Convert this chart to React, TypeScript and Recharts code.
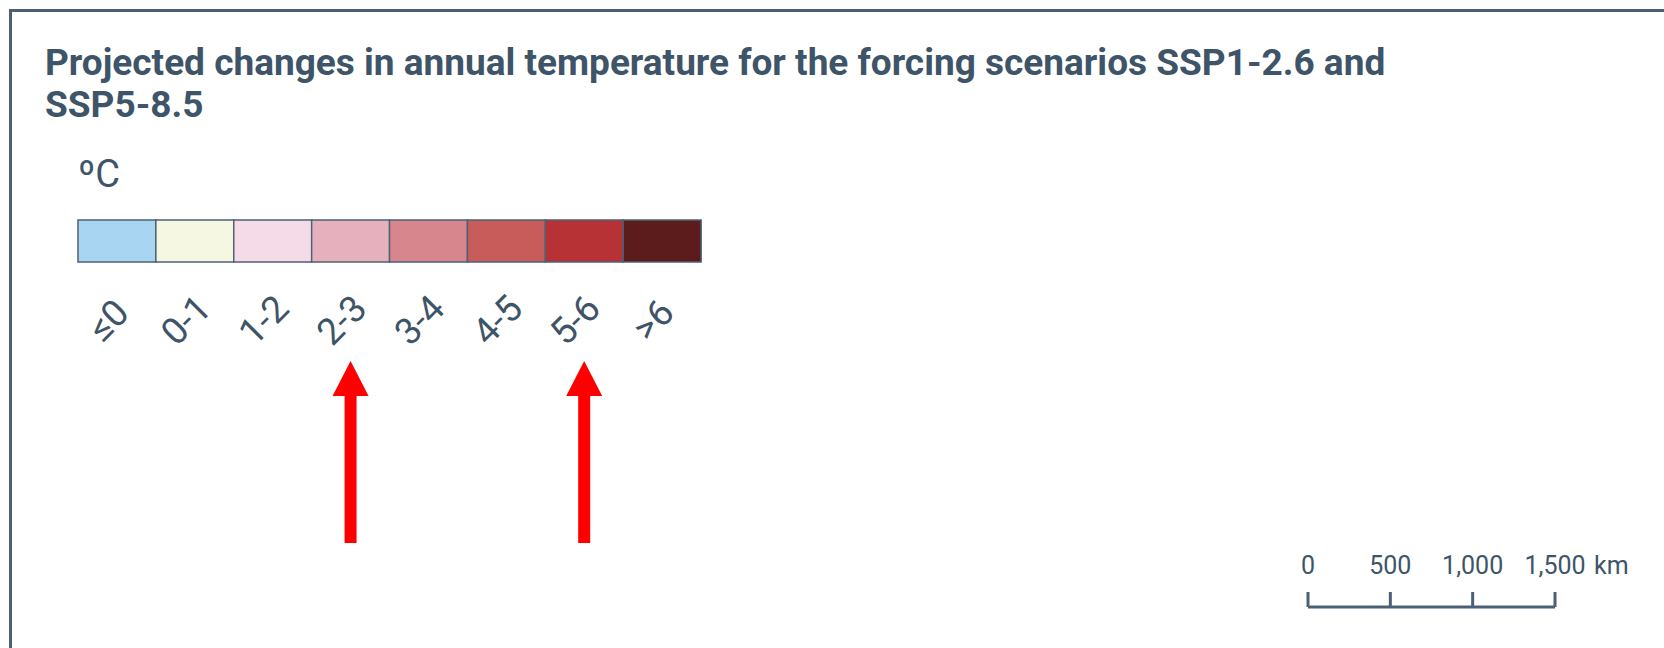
import React from "react";
import { BarChart, Bar, XAxis, YAxis, Cell, LineChart } from "recharts";

// legend classes (ºC), one equal-width cell each
const bins = ["≤0", "0-1", "1-2", "2-3", "3-4", "4-5", "5-6", ">6"];
const binWidths = [1, 1, 1, 1, 1, 1, 1, 1];
const binColors = ["#a8d6f2", "#f6f7e2", "#f5dbe8", "#e6b0bd", "#d7868e", "#c75c5b", "#b73234", "#5c1c1c"];
const highlighted = ["2-3", "5-6"];

// map scale bar
const scaleKm = [0, 500, 1000, 1500];

const ink = "#3e5468";
const frame = "#4b6075";

const legendData = bins.map((bin, i) => ({ bin, v: binWidths[i] }));
const scaleData = scaleKm.map((km) => ({ km }));

const BinTick = (props: any) => {
  const { x, y, payload } = props;
  const lx = x;
  const ly = y + 67;
  const hot = highlighted.includes(payload.value);
  return (
    <g>
      <text
        x={lx}
        y={ly}
        transform={`rotate(-45, ${lx}, ${ly})`}
        textAnchor="middle"
        fontSize={37}
        fill={ink}
        fontFamily="Roboto"
      >
        {payload.value}
      </text>
      {hot && (
        <polygon
          fill="#ff0000"
          points={[
            [x, y + 99],
            [x + 18, y + 134],
            [x + 6, y + 134],
            [x + 6, y + 281],
            [x - 6, y + 281],
            [x - 6, y + 134],
            [x - 18, y + 134],
          ]
            .map((p) => p.join(","))
            .join(" ")}
        />
      )}
    </g>
  );
};

const KmTick = (props: any) => {
  const { x, y, payload, index } = props;
  const last = index === scaleKm.length - 1;
  return (
    <g fontFamily="Roboto" fontSize={25} fill={ink}>
      <text x={x} y={y} textAnchor="middle">
        {payload.value.toLocaleString("en-US")}
      </text>
      {last && (
        <text x={x + 39} y={y} textAnchor="start">
          km
        </text>
      )}
    </g>
  );
};

export default function App() {
  return (
    <div
      style={{
        position: "absolute",
        left: 0,
        top: 0,
        width: 1664,
        height: 648,
        overflow: "hidden",
        background: "#fff",
        fontFamily: "Roboto",
      }}
    >
      {/* frame, only top and left edges visible */}
      <div
        style={{
          position: "absolute",
          left: 9,
          top: 9,
          width: 1800,
          height: 800,
          border: `3px solid ${frame}`,
        }}
      />
      <div
        style={{
          position: "absolute",
          left: 45,
          top: 42,
          fontSize: 37,
          lineHeight: "42px",
          fontWeight: 700,
          color: ink,
          whiteSpace: "nowrap",
        }}
      >
        Projected changes in annual temperature for the forcing scenarios SSP1-2.6 and
        <br />
        SSP5-8.5
      </div>
      <div
        style={{
          position: "absolute",
          left: 78,
          top: 154,
          fontSize: 38,
          lineHeight: "40px",
          color: ink,
        }}
      >
        ºC
      </div>

      <div style={{ position: "absolute", left: 0, top: 200 }}>
        <BarChart
          width={760}
          height={350}
          data={legendData}
          barCategoryGap={0}
          margin={{ top: 20, left: 78, right: 59, bottom: 0 }}
        >
          <YAxis hide domain={[0, 1]} />
          <XAxis
            dataKey="bin"
            interval={0}
            height={288}
            axisLine={false}
            tickLine={false}
            tickSize={0}
            tickMargin={0}
            tick={<BinTick />}
          />
          <Bar dataKey="v" stroke="#4d6276" strokeWidth={1.5} isAnimationActive={false}>
            {legendData.map((d, i) => (
              <Cell key={d.bin} fill={binColors[i]} />
            ))}
          </Bar>
        </BarChart>
      </div>

      <div style={{ position: "absolute", left: 1250, top: 540 }}>
        <LineChart
          width={414}
          height={100}
          data={scaleData}
          margin={{ top: 0, left: 58, right: 109, bottom: 0 }}
        >
          <XAxis
            dataKey="km"
            type="number"
            orientation="top"
            domain={[0, 1500]}
            ticks={scaleKm}
            height={67}
            stroke={frame}
            strokeWidth={3}
            tickSize={15}
            tickMargin={18}
            tick={<KmTick />}
          />
        </LineChart>
      </div>
    </div>
  );
}
